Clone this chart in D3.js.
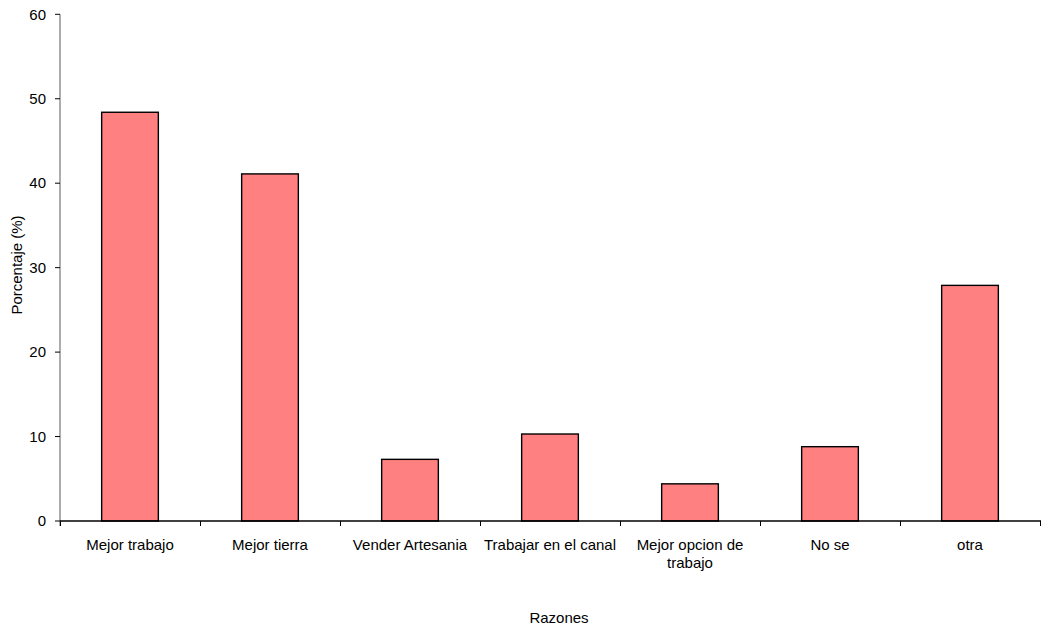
<!DOCTYPE html>
<html><head><meta charset="utf-8">
<script src="https://cdn.jsdelivr.net/npm/d3@7"></script>
<style>body{margin:0;background:#fff}svg{display:block}text{font-family:"Liberation Sans",Arial,sans-serif;font-size:15px;fill:#000}</style>
</head><body><svg id="c" width="1042" height="633"></svg>
<script>
const categories = [["Mejor trabajo"],["Mejor tierra"],["Vender Artesania"],["Trabajar en el canal"],["Mejor opcion de","trabajo"],["No se"],["otra"]];
const values = [48.4, 41.1, 7.3, 10.3, 4.4, 8.8, 27.9];
const yTicks = [0,10,20,30,40,50,60];

const svg = d3.select("#c");
const keys = categories.map(c => c.join(" "));
const x = d3.scaleBand().domain(keys).range([60,1040]).paddingInner(0).paddingOuter(0);
const y = d3.scaleLinear().domain([0,60]).range([521,14.3]);
const bw = x.bandwidth()*0.405;

svg.selectAll("rect.bar").data(values).enter().append("rect")
  .attr("x",(d,i)=>x(keys[i])+(x.bandwidth()-bw)/2)
  .attr("y",d=>y(d)).attr("width",bw).attr("height",d=>y(0)-y(d))
  .attr("fill","#ff8080").attr("stroke","#000").attr("stroke-width",1.4);

// y axis
const ya = svg.append("g");
ya.append("line").attr("x1",60).attr("x2",60).attr("y1",y(60)).attr("y2",y(0)+5).attr("stroke","#808080").attr("stroke-width",1.3);
yTicks.forEach(t=>{
  ya.append("line").attr("x1",55).attr("x2",60).attr("y1",y(t)).attr("y2",y(t)).attr("stroke","#000");
  ya.append("text").attr("x",46).attr("y",y(t)).attr("dy","0.35em").attr("text-anchor","end").text(t);
});
// x axis
const xa = svg.append("g");
xa.append("line").attr("x1",60).attr("x2",1041).attr("y1",521).attr("y2",521).attr("stroke","#000").attr("stroke-width",1.3);
const edges = keys.map(k=>x(k)).concat([1040]);
edges.forEach(e=>xa.append("line").attr("x1",e+0.5).attr("x2",e+0.5).attr("y1",521).attr("y2",526).attr("stroke","#000"));
categories.forEach((c,i)=>{
  const t = xa.append("text").attr("x",x(keys[i])+x.bandwidth()/2).attr("y",550).attr("text-anchor","middle");
  c.forEach((l,j)=>t.append("tspan").attr("x",x(keys[i])+x.bandwidth()/2).attr("dy",j?"18":"0").text(l));
});
svg.append("text").attr("x",559).attr("y",623).attr("text-anchor","middle").text("Razones");
svg.append("text").attr("transform","translate(22,265) rotate(-90)").attr("text-anchor","middle").text("Porcentaje (%)");
</script></body></html>
